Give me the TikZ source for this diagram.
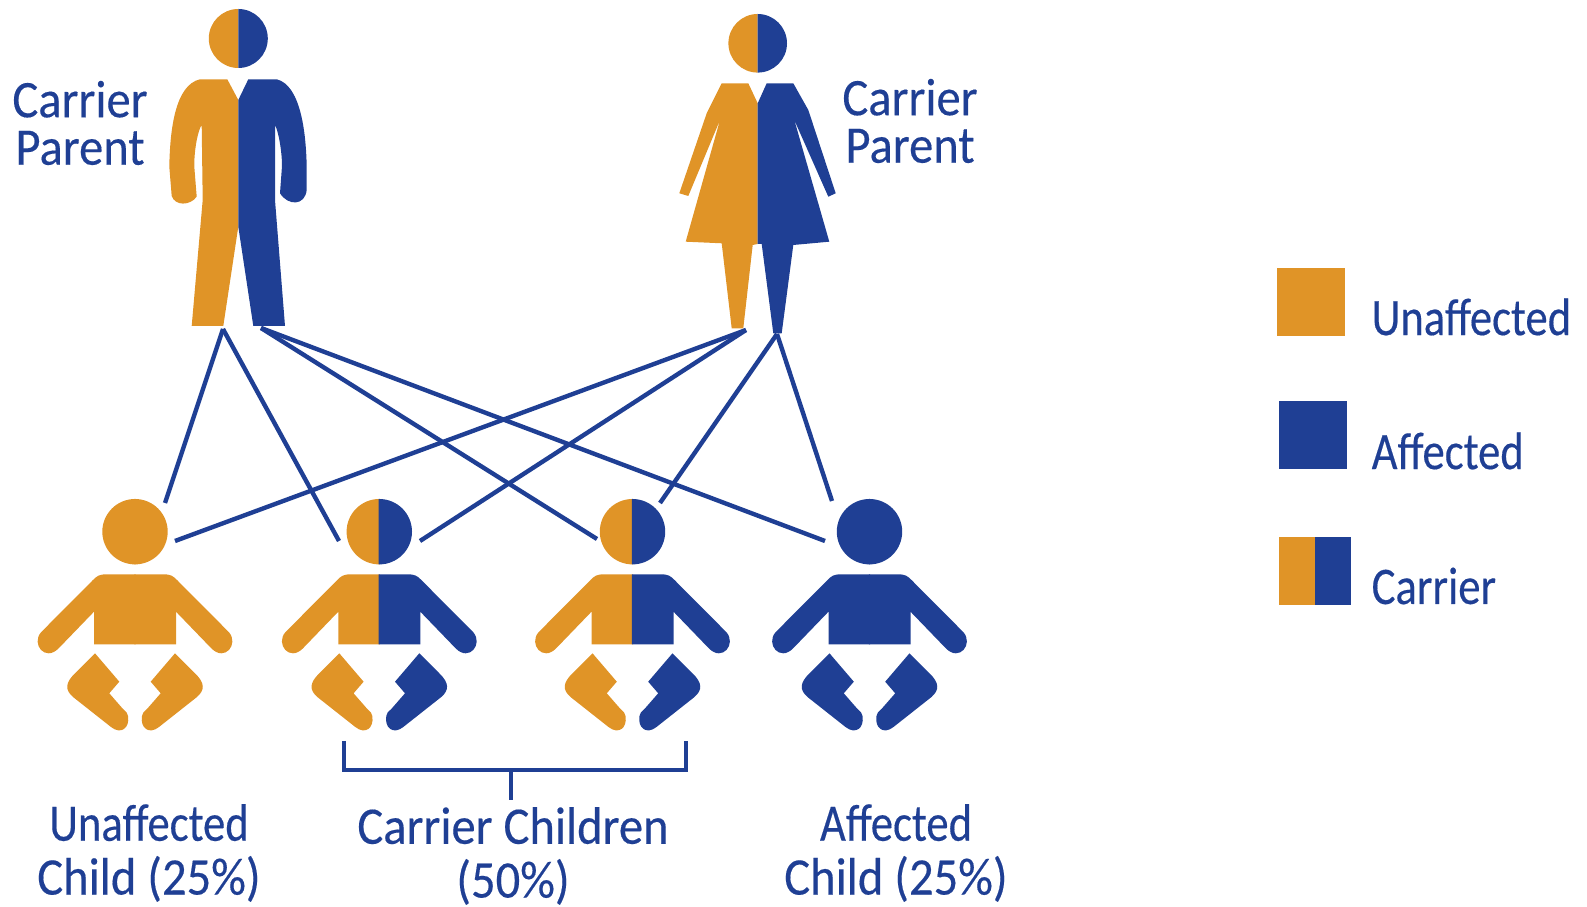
\documentclass[tikz,border=0pt]{standalone}
\usepackage{fontspec}
\setmainfont[FakeStretch=0.92,FakeBold=0.3]{Carlito}
\usepackage{tikz}
\definecolor{unaff}{HTML}{E09427}
\definecolor{aff}{HTML}{1F3F94}
\tikzset{
    lbl/.style={text=aff, align=center, font=\fontsize{15}{13.5}\selectfont, inner sep=0pt},
    link/.style={draw=aff, line width=1.25pt},
    swatch/.style={inner sep=0pt, minimum height=0.67cm}
}
\newcommand{\ffword}[1]{\scalebox{0.92}[1]{#1}}
\newcommand{\babyside}[3]{
    \begin{scope}[shift={(#1,0)}, xscale=#2]
        \fill[#3] (-0.6,499) -- (0,499) arc[start angle=-90, end angle=90, radius=32.7] -- (-0.6,564.4) -- cycle;
        \fill[#3] (-0.6,574.3) -- (28,574.3) .. controls (36,574.3) and (38,576) .. (42,580) -- (94,632.3) .. controls (104,644) and (90,662) .. (76.5,648.5) -- (41,611.7) -- (41,644.3) -- (-0.6,644.3) -- cycle;
        \fill[#3] (40,653.3) -- (60,673.3) .. controls (70,683) and (70,690) .. (62,697) -- (24,727) .. controls (14,735) and (5,728) .. (7,716) .. controls (7,713) and (9,712) .. (12,709) -- (25.7,693.3) -- (15.7,681.7) -- cycle;
    \end{scope}
}
\begin{document}
\begin{tikzpicture}[x=0.01cm, y=-0.01cm]
        \useasboundingbox (0,0) rectangle (1587,907);

        \fill[unaff] (238.3,9) arc[start angle=-90, end angle=-270, radius=29.5];
        \fill[aff] (238.3,9) arc[start angle=-90, end angle=90, radius=29.5];
        \fill[unaff] (238.3,100) -- (227.3,79.3) -- (200,79.3) .. controls (175,85) and (170,130) .. (169.3,166.7) -- (171.7,196) .. controls (175,206) and (190,206) .. (196.7,196.7) -- (194.3,166.7) .. controls (194,150) and (198,130) .. (201.7,125) -- (202.7,200) -- (191.7,326) -- (223.3,326) -- (238.3,226.7) -- cycle;
        \fill[aff] (238.3,100) -- (248.3,79.3) -- (276.7,79.3) .. controls (300,85) and (306,130) .. (306.7,166.7) -- (306.7,190) .. controls (305,206) and (288,206) .. (280,193.3) -- (282,166) .. controls (282,150) and (278,130) .. (275,125) -- (275,200) -- (285,326) -- (253.3,326) -- (238.3,226.7) -- cycle;

        \fill[unaff] (757.7,14) arc[start angle=-90, end angle=-270, radius=29.3];
        \fill[aff] (757.7,14) arc[start angle=-90, end angle=90, radius=29.3];
        \fill[unaff] (757.7,103.3) -- (748.3,83.3) -- (721.7,83.3) -- (706.7,113.3) -- (679.3,193.3) -- (688.3,196) -- (720,120) -- (685.7,241.7) -- (721.7,243.3) -- (731.7,328.3) -- (743.3,328.3) -- (752.7,245) -- (757.7,244) -- cycle;
        \fill[aff] (757.7,103.3) -- (766.7,83.3) -- (793.3,83.3) -- (808.3,110) -- (835.7,193.3) -- (828.3,196.7) -- (794.3,120) -- (829.3,241.7) -- (793.3,245) -- (781.7,333.3) -- (773.3,333.3) -- (761.7,244) -- (757.7,244) -- cycle;

        \foreach \cx/\lcol/\rcol in {135/unaff/unaff, 379.3/unaff/aff, 632.5/unaff/aff, 869.5/aff/aff} {
            \babyside{\cx}{-1}{\lcol}
            \babyside{\cx}{1}{\rcol}
        }

        \coordinate (dadl) at (223,329);
        \coordinate (dadr) at (261,328);
        \coordinate (moml) at (746,330);
        \coordinate (momr) at (777,334);
        \coordinate (kida) at (165,503);
        \coordinate (kidaa) at (175,541);
        \coordinate (kidb) at (339,541);
        \coordinate (kidbb) at (420,541);
        \coordinate (kidc) at (597,539);
        \coordinate (kidcc) at (660,503);
        \coordinate (kidd) at (825,541);
        \coordinate (kiddd) at (832,501);
        \draw[link] (dadl) -- (kida);
        \draw[link] (dadl) -- (kidb);
        \draw[link] (dadr) -- (kidc);
        \draw[link] (dadr) -- (kidd);
        \draw[link] (moml) -- (kidaa);
        \draw[link] (moml) -- (kidbb);
        \draw[link] (momr) -- (kidcc);
        \draw[link] (momr) -- (kiddd);

        \coordinate (bral) at (344,741);
        \coordinate (brar) at (686,741);
        \coordinate (bram) at (511,770);
        \coordinate (bras) at (511,800);
        \draw[link] (bral) |- (bram) -| (brar);
        \draw[link] (bram) -- (bras);

        \node[lbl] (dadlbl) at (80,123) {Carrier\\Parent};
        \node[lbl] (momlbl) at (910,121) {Carrier\\Parent};
        \node[lbl] (kidalbl) at (149,853) {\ffword{Unaffected}\\[1.8pt]Child (25\%)};
        \node[lbl] (kidblbl) at (513,856) {Carrier Children\\[1.8pt](50\%)};
        \node[lbl] (kidclbl) at (896,853) {\ffword{Affected}\\[1.8pt]Child (25\%)};

        \node[swatch, fill=unaff, minimum width=0.68cm] (keyu) at (1311,302) {};
        \node[swatch, fill=aff, minimum width=0.68cm] (keya) at (1313,435) {};
        \node[swatch, fill=aff, minimum width=0.36cm] (keyd) at (1333,571) {};
        \node[swatch, fill=unaff, minimum width=0.36cm, anchor=east, xshift=0.4pt] (keyc) at (keyd.west) {};
        \node[lbl, anchor=west] (keyulbl) at (1371,317) {\ffword{Unaffected}};
        \node[lbl, anchor=west] (keyalbl) at (1371,451) {\ffword{Affected}};
        \node[lbl, anchor=west] (keyclbl) at (1371,586) {\ffword{Carrier}};
    \end{tikzpicture}
\end{document}
